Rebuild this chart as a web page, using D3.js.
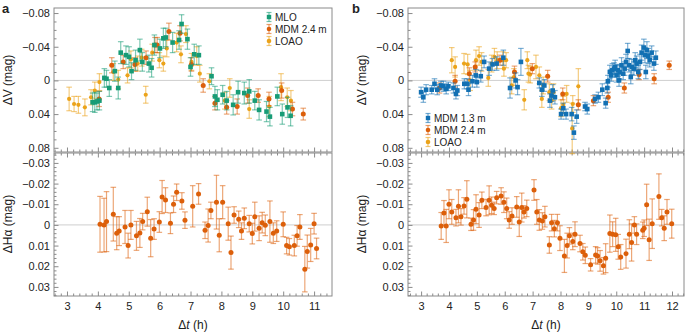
<!DOCTYPE html>
<html>
<head>
<meta charset="utf-8">
<script src="https://cdn.jsdelivr.net/npm/d3@7"></script>
<style>
  body { margin: 0; background: #fff; }
  text { font-family: "Liberation Sans", Arial, sans-serif; fill: #222; }
</style>
</head>
<body>
<svg id="chart" width="685" height="333"></svg>
<script>
// [t (h), delta mag, error]
const aMLO = [[3.83,0.026,0.011],[3.90,0.026,0.012],[3.97,0.025,0.010],[4.05,0.024,0.011],[4.21,-0.003,0.011],[4.28,-0.002,0.010],[4.37,0.009,0.010],[4.55,-0.011,0.012],[4.66,0.009,0.013],[4.74,-0.033,0.013],[4.91,-0.030,0.011],[5.01,-0.028,0.012],[5.09,-0.011,0.010],[5.22,-0.024,0.012],[5.36,-0.036,0.013],[5.44,-0.022,0.011],[5.65,-0.020,0.010],[5.74,-0.015,0.011],[5.83,-0.042,0.012],[6.01,-0.038,0.011],[6.12,-0.050,0.012],[6.20,-0.051,0.011],[6.42,-0.045,0.012],[6.63,-0.048,0.011],[6.71,-0.067,0.011],[6.90,-0.049,0.012],[7.00,-0.016,0.011],[7.12,-0.031,0.012],[7.27,-0.030,0.011],[7.68,-0.005,0.010],[7.79,0.019,0.012],[7.87,0.023,0.012],[8.04,0.017,0.011],[8.17,0.024,0.011],[8.38,0.029,0.012],[8.54,0.014,0.013],[8.74,0.015,0.013],[8.90,0.013,0.014],[9.08,0.024,0.011],[9.22,0.035,0.012],[9.46,0.037,0.012],[9.57,0.043,0.011],[9.81,0.019,0.011],[9.97,0.040,0.012],[10.14,0.032,0.012],[10.24,0.042,0.012]];
const aMDM24 = [[4.04,0.022,0.009],[4.45,-0.018,0.009],[4.82,-0.022,0.008],[5.20,-0.019,0.008],[5.56,-0.027,0.008],[5.85,-0.042,0.009],[5.92,-0.042,0.009],[6.30,-0.058,0.010],[6.66,-0.056,0.009],[7.03,-0.019,0.008],[7.41,0.006,0.008],[7.79,0.027,0.008],[8.17,0.032,0.008],[8.51,0.031,0.009],[8.85,0.018,0.009],[9.19,0.018,0.008],[9.54,0.022,0.008],[9.95,0.012,0.009],[10.30,0.034,0.008],[10.65,0.040,0.007]];
const aLOAO = [[3.07,0.022,0.014],[3.23,0.028,0.009],[3.37,0.029,0.010],[3.58,0.032,0.010],[3.78,0.020,0.009],[3.90,0.012,0.010],[4.05,0.002,0.010],[4.50,-0.010,0.010],[4.66,-0.001,0.011],[4.96,-0.006,0.009],[5.07,-0.025,0.010],[5.29,-0.020,0.009],[5.42,-0.027,0.010],[5.55,0.017,0.010],[5.76,-0.033,0.010],[5.99,-0.024,0.009],[6.12,-0.020,0.009],[6.23,-0.038,0.010],[6.55,-0.045,0.011],[6.69,-0.031,0.010],[6.85,-0.055,0.010],[7.03,-0.022,0.010],[7.20,-0.029,0.011],[7.30,-0.008,0.010],[7.61,0.001,0.009],[8.11,0.024,0.010],[8.27,0.009,0.011],[8.90,0.034,0.011],[9.55,0.031,0.012],[9.93,0.008,0.016],[10.13,0.020,0.011],[10.25,0.024,0.012]];
const aHalpha = [[4.07,-0.0003,0.0135],[4.20,0.0001,0.013],[4.28,-0.0016,0.0145],[4.50,-0.0052,0.013],[4.61,0.0040,0.008],[4.69,0.0030,0.007],[4.88,0.0010,0.008],[4.98,0.0100,0.006],[5.07,0.0000,0.007],[5.25,0.0053,0.007],[5.36,0.0039,0.007],[5.45,-0.0016,0.004],[5.60,-0.0064,0.007],[5.71,0.0064,0.009],[5.82,0.0020,0.005],[5.99,-0.0014,0.005],[6.08,-0.0135,0.008],[6.19,-0.0120,0.006],[6.35,-0.0008,0.005],[6.45,-0.0100,0.004],[6.55,-0.0158,0.004],[6.72,-0.0116,0.004],[6.82,-0.0023,0.004],[7.07,-0.0090,0.010],[7.26,-0.0150,0.005],[7.47,0.0026,0.004],[7.57,0.0003,0.008],[7.66,-0.0070,0.004],[7.84,-0.0110,0.013],[7.93,0.0050,0.008],[8.04,-0.0110,0.008],[8.22,-0.0006,0.008],[8.31,0.0134,0.008],[8.41,-0.0048,0.004],[8.56,-0.0027,0.004],[8.65,0.0030,0.004],[8.74,-0.0032,0.005],[8.90,-0.0006,0.004],[9.00,0.0042,0.005],[9.08,-0.0040,0.007],[9.22,0.0016,0.006],[9.32,-0.0011,0.005],[9.42,0.0002,0.005],[9.57,-0.0016,0.010],[9.68,0.0040,0.005],[9.79,0.0030,0.005],[10.00,-0.0003,0.006],[10.11,0.0100,0.004],[10.20,0.0106,0.004],[10.36,0.0100,0.005],[10.45,0.0053,0.005],[10.54,0.0010,0.006],[10.70,0.0214,0.011],[10.78,0.0129,0.008],[10.89,0.0097,0.008],[11.00,-0.0006,0.005],[11.08,0.0114,0.005]];

const bMDM13 = [[3.00,0.014,0.006],[3.08,0.020,0.006],[3.18,0.011,0.006],[3.38,0.011,0.005],[3.48,0.004,0.006],[3.58,0.011,0.006],[3.71,0.006,0.005],[3.80,0.007,0.006],[3.90,0.010,0.006],[3.98,0.007,0.005],[4.16,0.009,0.006],[4.25,0.016,0.006],[4.30,0.012,0.006],[4.55,0.004,0.006],[4.66,0.004,0.006],[4.70,0.011,0.007],[4.84,0.001,0.007],[4.96,-0.006,0.007],[5.00,0.002,0.006],[5.14,-0.005,0.007],[5.26,-0.022,0.007],[5.44,-0.014,0.008],[5.56,-0.019,0.007],[5.71,-0.020,0.008],[5.95,-0.027,0.009],[6.19,0.009,0.012],[6.39,0.000,0.009],[6.46,0.008,0.009],[6.58,-0.022,0.016],[7.24,0.003,0.006],[7.33,0.011,0.008],[7.42,0.006,0.007],[7.62,0.024,0.008],[7.68,0.018,0.007],[7.72,0.012,0.007],[7.80,0.020,0.008],[8.02,0.040,0.006],[8.10,0.033,0.006],[8.20,0.040,0.006],[8.40,0.040,0.008],[8.48,0.062,0.008],[8.58,0.043,0.008],[8.88,0.031,0.005],[8.96,0.034,0.006],[9.24,0.022,0.005],[9.36,0.020,0.006],[9.50,0.011,0.007],[9.62,0.027,0.006],[9.68,0.009,0.006],[9.70,0.001,0.007],[9.77,-0.010,0.008],[9.82,-0.006,0.007],[9.86,-0.012,0.008],[9.92,-0.014,0.007],[9.96,-0.016,0.008],[10.01,-0.006,0.008],[10.06,-0.012,0.007],[10.10,0.000,0.007],[10.12,-0.010,0.008],[10.19,-0.018,0.009],[10.25,-0.008,0.007],[10.30,-0.014,0.008],[10.35,-0.022,0.009],[10.41,-0.035,0.009],[10.46,-0.018,0.008],[10.52,-0.004,0.008],[10.56,-0.016,0.009],[10.63,-0.014,0.008],[10.68,-0.024,0.009],[10.73,-0.020,0.009],[10.79,-0.010,0.008],[10.85,-0.022,0.009],[10.91,-0.033,0.009],[10.99,-0.039,0.010],[11.03,-0.030,0.009],[11.06,-0.010,0.008],[11.10,-0.036,0.010],[11.15,-0.029,0.009],[11.20,-0.024,0.008],[11.27,-0.033,0.008],[11.35,-0.020,0.008],[11.42,-0.027,0.008]];
const bMDM24 = [[3.66,0.009,0.006],[4.22,0.001,0.007],[4.73,-0.008,0.007],[4.94,-0.016,0.006],[5.83,-0.024,0.006],[6.35,-0.010,0.007],[6.99,-0.014,0.006],[7.54,-0.005,0.007],[8.08,0.016,0.007],[8.64,0.029,0.006],[9.18,0.024,0.006],[9.71,0.020,0.006],[10.29,0.009,0.006],[10.82,-0.007,0.006],[11.36,-0.002,0.006],[11.90,-0.018,0.005]];
const bLOAO = [[4.10,-0.024,0.015],[4.22,-0.016,0.012],[4.54,-0.020,0.012],[4.67,-0.019,0.012],[4.76,0.000,0.012],[4.97,-0.024,0.012],[5.08,-0.029,0.011],[5.17,-0.022,0.011],[5.41,-0.003,0.010],[5.53,-0.020,0.010],[5.63,-0.028,0.010],[5.73,-0.024,0.010],[5.93,-0.024,0.010],[5.97,-0.014,0.009],[6.05,-0.024,0.009],[6.25,0.006,0.010],[6.33,-0.004,0.010],[6.70,0.023,0.012],[6.81,-0.024,0.010],[6.85,-0.008,0.010],[6.91,-0.007,0.010],[7.12,-0.016,0.014],[7.24,-0.006,0.010],[7.33,0.022,0.010],[7.38,0.006,0.010],[7.60,0.014,0.010],[7.68,0.024,0.010],[7.75,0.014,0.010],[8.02,0.033,0.010],[8.10,0.029,0.010],[8.22,0.016,0.010],[8.42,0.057,0.030],[8.44,0.028,0.010],[8.64,0.007,0.021]];
const bHalpha = [[3.72,0.0005,0.0065],[3.82,-0.0058,0.006],[3.90,0.0005,0.008],[4.00,-0.0100,0.007],[4.10,-0.0063,0.006],[4.25,-0.0035,0.004],[4.34,-0.0090,0.008],[4.43,-0.0039,0.004],[4.54,-0.0092,0.004],[4.64,-0.0124,0.009],[4.79,-0.0003,0.003],[4.88,-0.0024,0.005],[4.97,-0.0076,0.007],[5.08,-0.0048,0.006],[5.18,-0.0119,0.004],[5.33,-0.0084,0.004],[5.44,-0.0119,0.007],[5.53,-0.0095,0.004],[5.62,-0.0080,0.003],[5.71,-0.0132,0.003],[5.87,-0.0140,0.004],[5.97,-0.0110,0.005],[6.07,-0.0080,0.005],[6.16,-0.0024,0.004],[6.26,-0.0043,0.004],[6.43,-0.0087,0.005],[6.52,-0.0014,0.007],[6.61,-0.0084,0.007],[6.69,-0.0063,0.003],[6.79,-0.0080,0.004],[7.05,-0.0169,0.005],[7.15,-0.0063,0.006],[7.24,-0.0024,0.005],[7.35,-0.0019,0.004],[7.44,-0.0040,0.005],[7.60,0.0097,0.004],[7.68,-0.0011,0.004],[7.78,0.0018,0.004],[7.89,-0.0011,0.004],[7.98,0.0064,0.006],[8.14,0.0150,0.008],[8.24,0.0100,0.006],[8.32,0.0053,0.004],[8.44,0.0080,0.004],[8.52,0.0045,0.006],[8.70,0.0090,0.004],[8.80,0.0130,0.004],[8.89,0.0147,0.004],[9.08,0.0193,0.003],[9.26,0.0145,0.004],[9.33,0.0150,0.004],[9.42,0.0174,0.005],[9.54,0.0198,0.004],[9.62,0.0161,0.007],[9.77,0.0042,0.009],[9.87,0.0045,0.006],[9.98,0.0048,0.008],[10.07,0.0106,0.006],[10.16,0.0155,0.006],[10.35,0.0139,0.007],[10.47,0.0045,0.007],[10.55,0.0085,0.009],[10.65,0.0000,0.004],[10.73,0.0045,0.005],[10.95,0.0026,0.004],[11.00,0.0016,0.004],[11.09,-0.0097,0.010],[11.18,0.0072,0.010],[11.29,-0.0006,0.012],[11.53,-0.0137,0.011],[11.63,-0.0035,0.004],[11.72,0.0016,0.006],[11.82,-0.0063,0.006],[11.99,-0.0006,0.007]];

const vTicks = [-0.08, -0.04, 0, 0.04, 0.08];
const hTicks = [-0.03, -0.02, -0.01, 0, 0.01, 0.02, 0.03];
const colors = { MLO: "#179c76", MDM24: "#dc5f0a", LOAO: "#eba31a", MDM13: "#1270b3" };

const svg = d3.select("#chart");
const frameColor = "#8a8a8a";

function fmt(v) { return v === 0 ? "0" : d3.format(".2f")(v); }

function drawSeries(g, x, y, data, color, shape) {
  const s = g.append("g");
  data.forEach(function(d) {
    const cx = x(d[0]), y0 = y(d[1] - d[2]), y1 = y(d[1] + d[2]);
    s.append("line").attr("x1", cx).attr("x2", cx).attr("y1", y0).attr("y2", y1)
      .attr("stroke", color).attr("stroke-opacity", 0.55).attr("stroke-width", 1.2);
    [y0, y1].forEach(function(yy) {
      s.append("line").attr("x1", cx - 2.8).attr("x2", cx + 2.8).attr("y1", yy).attr("y2", yy)
        .attr("stroke", color).attr("stroke-opacity", 0.55).attr("stroke-width", 1.2);
    });
  });
  data.forEach(function(d) {
    const cx = x(d[0]), cy = y(d[1]);
    if (shape === "square") {
      s.append("rect").attr("x", cx - 2.3).attr("y", cy - 2.3).attr("width", 4.6).attr("height", 4.6)
        .attr("fill", color);
    } else {
      s.append("circle").attr("cx", cx).attr("cy", cy).attr("r", shape === "small" ? 2.1 : 2.5)
        .attr("fill", color);
    }
  });
}

function legend(g, x0, y0, items) {
  items.forEach(function(it, i) {
    const yy = y0 + i * 12;
    g.append("line").attr("x1", x0).attr("x2", x0).attr("y1", yy - 4.5).attr("y2", yy + 4.5)
      .attr("stroke", it.color).attr("stroke-opacity", 0.6).attr("stroke-width", 1.2);
    [yy - 4.5, yy + 4.5].forEach(function(c) {
      g.append("line").attr("x1", x0 - 2.5).attr("x2", x0 + 2.5).attr("y1", c).attr("y2", c)
        .attr("stroke", it.color).attr("stroke-opacity", 0.6).attr("stroke-width", 1.2);
    });
    if (it.shape === "square") {
      g.append("rect").attr("x", x0 - 2.2).attr("y", yy - 2.2).attr("width", 4.4).attr("height", 4.4).attr("fill", it.color);
    } else {
      g.append("circle").attr("cx", x0).attr("cy", yy).attr("r", 2.3).attr("fill", it.color);
    }
    g.append("text").attr("x", x0 + 6).attr("y", yy + 3.6).attr("font-size", 10).text(it.label);
  });
}

function styleAxis(a) {
  a.select(".domain").remove();
  a.selectAll("line").attr("stroke", frameColor);
  a.selectAll("text").attr("font-size", 11).attr("fill", "#222").style("font-family", "'Liberation Sans', Arial, sans-serif");
}

function panel(cfg) {
  const x = d3.scaleLinear().domain(cfg.xDomain).range(cfg.xRange);
  const yTop = d3.scaleLinear().domain([-0.086, 0.085]).range([8, 152]);
  const yBot = d3.scaleLinear().domain([-0.0348, 0.0344]).range([153, 296]);
  const xMajor = d3.range(cfg.xTicks[0], cfg.xTicks[1] + 0.01, 1);
  const xMinor = d3.range(Math.ceil(cfg.xDomain[0] * 5) / 5, cfg.xDomain[1], 0.2).filter(function(v) { return Math.abs(v - Math.round(v)) > 0.01; });
  const g = svg.append("g");

  [yTop, yBot].forEach(function(ys) {
    g.append("line").attr("x1", cfg.xRange[0]).attr("x2", cfg.xRange[1]).attr("y1", ys(0)).attr("y2", ys(0))
      .attr("stroke", "#cfcfcf").attr("stroke-width", 1);
  });

  // top panel y axis
  const ay1 = g.append("g").attr("transform", "translate(" + cfg.xRange[0] + ",0)")
    .call(d3.axisLeft(yTop).tickValues(vTicks).tickFormat(fmt).tickSize(-4.5).tickPadding(4));
  styleAxis(ay1);
  const ay1m = g.append("g").attr("transform", "translate(" + cfg.xRange[0] + ",0)")
    .call(d3.axisLeft(yTop).tickValues(d3.range(-0.08, 0.0801, 0.01).filter(function(v) { return Math.abs(v * 100) % 4 > 0.5 && Math.abs(v * 100) % 4 < 3.5; })).tickFormat("").tickSize(-2.5));
  styleAxis(ay1m);

  // bottom panel y axis
  const ay2 = g.append("g").attr("transform", "translate(" + cfg.xRange[0] + ",0)")
    .call(d3.axisLeft(yBot).tickValues(hTicks).tickFormat(fmt).tickSize(-4.5).tickPadding(4));
  styleAxis(ay2);
  const ay2m = g.append("g").attr("transform", "translate(" + cfg.xRange[0] + ",0)")
    .call(d3.axisLeft(yBot).tickValues(d3.range(-0.034, 0.0341, 0.002).filter(function(v) { return Math.abs(Math.round(v * 1000) % 10) !== 0; })).tickFormat("").tickSize(-2.5));
  styleAxis(ay2m);

  // x axes
  [[d3.axisBottom, 296, true], [d3.axisBottom, 152, false], [d3.axisTop, 153, false]].forEach(function(p) {
    const a = g.append("g").attr("transform", "translate(0," + p[1] + ")")
      .call(p[0](x).tickValues(xMajor).tickFormat(p[2] ? d3.format("d") : "").tickSize(-4.5).tickPadding(6));
    styleAxis(a);
    const m = g.append("g").attr("transform", "translate(0," + p[1] + ")")
      .call(p[0](x).tickValues(xMinor).tickFormat("").tickSize(-2.5));
    styleAxis(m);
  });

  // frames
  g.append("rect").attr("x", cfg.xRange[0]).attr("y", 8).attr("width", cfg.xRange[1] - cfg.xRange[0]).attr("height", 144)
    .attr("fill", "none").attr("stroke", frameColor).attr("stroke-width", 1);
  g.append("rect").attr("x", cfg.xRange[0]).attr("y", 153).attr("width", cfg.xRange[1] - cfg.xRange[0]).attr("height", 143)
    .attr("fill", "none").attr("stroke", frameColor).attr("stroke-width", 1);

  cfg.top.forEach(function(s) { drawSeries(g, x, yTop, s.data, s.color, s.shape); });
  drawSeries(g, x, yBot, cfg.bottom, colors.MDM24, "circle");

  legend(g, cfg.legend[0], cfg.legend[1], cfg.top.slice().sort(function(a, b) { return a.order - b.order; }));

  // labels
  const lx = cfg.xRange[0] - 42;
  g.append("text").attr("transform", "translate(" + lx + ",80) rotate(-90)").attr("text-anchor", "middle")
    .attr("font-size", 12).text("ΔV (mag)");
  g.append("text").attr("transform", "translate(" + lx + ",224) rotate(-90)").attr("text-anchor", "middle")
    .attr("font-size", 12).text("ΔHα (mag)");
  const tl = g.append("text").attr("x", (cfg.xRange[0] + cfg.xRange[1]) / 2).attr("y", 329).attr("text-anchor", "middle").attr("font-size", 12);
  tl.append("tspan").text("Δ");
  tl.append("tspan").attr("font-style", "italic").text("t");
  tl.append("tspan").text(" (h)");
  g.append("text").attr("x", cfg.letterX).attr("y", 13).attr("font-size", 13).attr("font-weight", "bold").text(cfg.letter);
}

panel({
  letter: "a", letterX: 2,
  xDomain: [2.58, 11.58], xRange: [54, 332], xTicks: [3, 11],
  top: [
    { data: aLOAO, color: colors.LOAO, shape: "small", label: "LOAO", order: 3 },
    { data: aMDM24, color: colors.MDM24, shape: "circle", label: "MDM 2.4 m", order: 2 },
    { data: aMLO, color: colors.MLO, shape: "square", label: "MLO", order: 1 }
  ],
  bottom: aHalpha,
  legend: [269, 17]
});

panel({
  letter: "b", letterX: 352,
  xDomain: [2.53, 12.43], xRange: [408, 684], xTicks: [3, 12],
  top: [
    { data: bLOAO, color: colors.LOAO, shape: "small", label: "LOAO", order: 3 },
    { data: bMDM24, color: colors.MDM24, shape: "circle", label: "MDM 2.4 m", order: 2 },
    { data: bMDM13, color: colors.MDM13, shape: "square", label: "MDM 1.3 m", order: 1 }
  ],
  bottom: bHalpha,
  legend: [428, 118]
});
</script>
</body>
</html>
